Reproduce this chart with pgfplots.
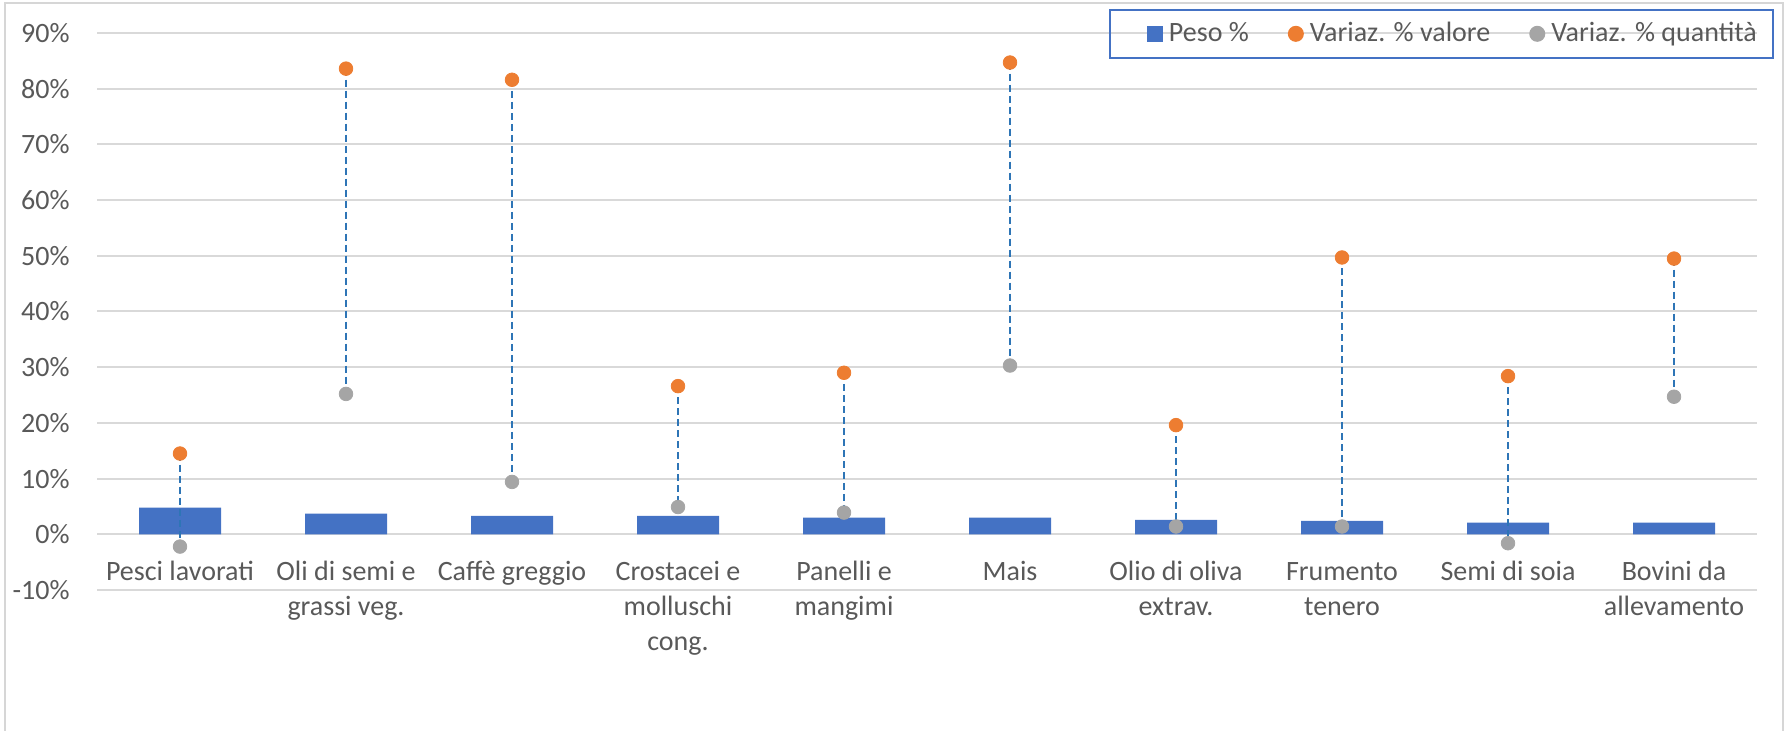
\documentclass[border=0pt]{standalone}
\usepackage{fontspec}
\setmainfont{Carlito}
\usepackage{pgfplots}
\pgfplotsset{compat=1.18}
\usepackage{pgfplotstable}

\definecolor{peso}{HTML}{4472C4}
\definecolor{valore}{HTML}{ED7D31}
\definecolor{quant}{HTML}{A5A5A5}
\definecolor{gridgray}{HTML}{D9D9D9}
\definecolor{txtgray}{HTML}{595959}
\definecolor{dropline}{HTML}{2E75B6}
\definecolor{framegray}{HTML}{D6D6D6}

% peso %, variazione % valore, variazione % quantita
\pgfplotstableread{
x peso valore quantita
0 4.8 14.5 -2.2
1 3.7 83.6 25.2
2 3.3 81.6 9.4
3 3.3 26.6 4.9
4 3.0 29.0 3.9
5 3.0 84.7 30.3
6 2.6 19.6 1.4
7 2.4 49.7 1.4
8 2.1 28.4 -1.6
9 2.1 49.5 24.7
}\dati

\begin{document}
\fontsize{14bp}{17.5bp}\selectfont
\begin{tikzpicture}[font=\fontsize{14bp}{17.5bp}\selectfont]
\path[use as bounding box] (0,0) rectangle (894.5bp,365.5bp);
\draw[framegray, line width=1.25bp] (2.5bp,-2bp) -- (2.5bp,364bp) -- (891.5bp,364bp) -- (891.5bp,-2bp);
\begin{axis}[
  at={(48.5bp,70.5bp)}, anchor=south west,
  scale only axis, width=830bp, height=278.5bp,
  xmin=-0.5, xmax=9.5, ymin=-10, ymax=90,
  clip=false,
  axis line style={draw=none},
  major tick length=0pt,
  xtick={0,...,9},
  xticklabels={
    {\strut Pesci lavorati},
    {\strut Oli di semi e\\grassi veg.},
    {\strut Caffè greggio},
    {\strut Crostacei e\\molluschi\\cong.},
    {\strut Panelli e\\mangimi},
    {\strut Mais},
    {\strut Olio di oliva\\extrav.},
    {\strut Frumento\\tenero},
    {\strut Semi di soia},
    {\strut Bovini da\\allevamento}},
  xticklabel style={align=center, anchor=north, inner sep=0pt, yshift=17.25bp, text=txtgray},
  ytick={-10,0,...,90},
  yticklabels={-10\%,0\%,10\%,20\%,30\%,40\%,50\%,60\%,70\%,80\%,90\%},
  yticklabel style={anchor=east, inner sep=0pt, xshift=-13.5bp, text=txtgray},
  ymajorgrids,
  grid style={gridgray, line width=1bp},
  legend style={
    at={(axis description cs:0.6096,1.0431)}, anchor=north west,
    draw=peso, line width=1bp, fill=none,
    legend columns=3, text=txtgray,
    inner xsep=8bp, inner ysep=6bp,
    nodes={inner sep=0pt},
    /tikz/every odd column/.append style={column sep=3bp},
    /tikz/every even column/.append style={column sep=19.5bp}
  },
  legend cell align=left,
]
\addplot[ybar, bar width=41bp, bar shift=0pt, fill=peso, draw=none,
  legend image code/.code={\path (-10.5bp,0bp); \fill[peso] (0bp,-4bp) rectangle (8bp,4bp);}]
  table[x=x, y=peso]{\dati};
\addlegendentry{Peso \%}

\addplot[only marks, mark=none, forget plot,
  error bars/.cd, y dir=minus, y explicit, error mark=none,
  error bar style={draw=dropline, line width=1bp, dash pattern=on 3.5bp off 2bp}]
  table[x=x, y=valore, y error expr=\thisrow{valore}-\thisrow{quantita}]{\dati};

\addplot[only marks, mark=*, mark size=3.4bp, color=valore,
  legend image code/.code={\fill[valore] (3.5bp,0bp) circle (3.5bp);}]
  table[x=x, y=valore]{\dati};
\addlegendentry{Variaz. \% valore}

\addplot[only marks, mark=*, mark size=3.4bp, color=quant,
  legend image code/.code={\fill[quant] (3.5bp,0bp) circle (3.5bp);}]
  table[x=x, y=quantita]{\dati};
\addlegendentry{Variaz. \% quantità}
\end{axis}
\end{tikzpicture}
\end{document}
